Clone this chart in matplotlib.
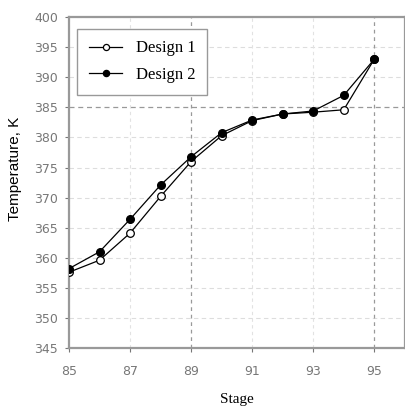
import matplotlib.pyplot as plt

# stage numbers and temperatures (K)
stages = [85, 86, 87, 88, 89, 90, 91, 92, 93, 94, 95]
design1 = [357.6, 359.6, 364.1, 370.2, 376.0, 380.3, 382.8, 383.9, 384.2, 384.6, 393.0]
design2 = [358.2, 361.0, 366.4, 372.1, 376.8, 380.8, 382.9, 383.9, 384.4, 387.0, 393.0]
xticks = [85, 87, 89, 91, 93, 95]
yticks = [345, 350, 355, 360, 365, 370, 375, 380, 385, 390, 395, 400]

fig = plt.figure(figsize=(4.06, 4.08), dpi=100)
ax = fig.add_axes([0.17, 0.147, 0.827, 0.811])

# light grid everywhere, darker dashes at 385 K and stages 89 / 95
for y in yticks:
    if y == 385:
        ax.axhline(y, color='#999999', lw=0.9, ls=(0, (4, 3)), zorder=1)
    else:
        ax.axhline(y, color='#dddddd', lw=0.8, ls=(0, (4, 3)), zorder=1)
for x in xticks:
    if x in (89, 95):
        ax.axvline(x, color='#999999', lw=0.9, ls=(0, (3, 3)), zorder=1)
    else:
        ax.axvline(x, color='#e2e2e2', lw=0.8, ls=(0, (3, 3)), zorder=1)

ax.plot(stages, design1, color='black', lw=0.9, marker='o', ms=5.5,
        mfc='white', mec='black', mew=0.9, label='Design 1', zorder=3)
ax.plot(stages, design2, color='black', lw=0.9, marker='o', ms=5.5,
        mfc='black', mec='black', label='Design 2', zorder=4)

ax.set_xlim(85, 96)
ax.set_ylim(345, 400)
ax.set_xticks(xticks)
ax.set_yticks(yticks)
ax.tick_params(labelsize=9, colors='#777777', length=3, width=0.8)
ax.tick_params(axis='x', pad=9)
ax.tick_params(axis='y', pad=5)

for s in ax.spines.values():
    s.set_color('#999999')
    s.set_linewidth(1.6)

ax.set_xlabel('Stage', fontfamily='Liberation Serif', fontsize=11)
ax.xaxis.set_label_coords(0.5, -0.135)
ax.set_ylabel('Temperature, K', fontfamily='Liberation Sans', fontsize=11)
ax.yaxis.set_label_coords(-0.14, 0.54)

leg = ax.legend(loc='upper left', prop={'family': 'Liberation Serif', 'size': 12},
                fancybox=False, edgecolor='#999999', framealpha=1,
                handlelength=2.0, borderpad=0.7, labelspacing=0.65,
                markerscale=0.8, bbox_to_anchor=(0.0, 0.99))
leg.get_frame().set_linewidth(1.0)

fig.savefig('out.png', dpi=100)
